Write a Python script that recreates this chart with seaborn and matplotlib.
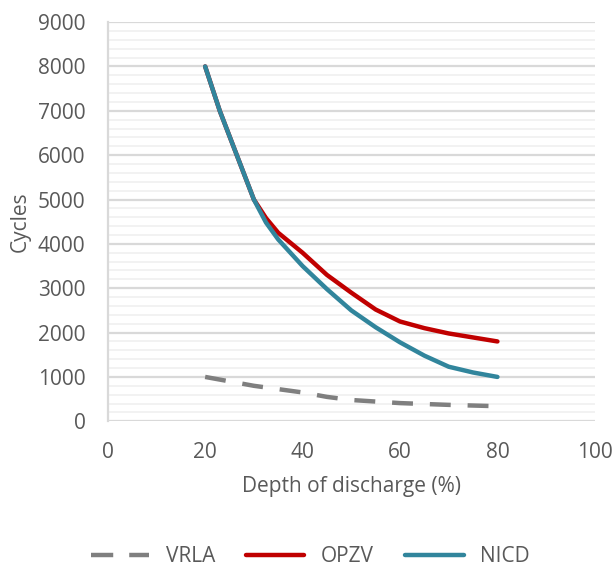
import numpy as np
import pandas as pd
import matplotlib
matplotlib.use("Agg")
import matplotlib.pyplot as plt
import seaborn as sns

# depth of discharge (%) and cycle counts
depth = [20, 23, 26.5, 30, 32.5, 35, 40, 45, 50, 55, 60, 65, 70, 75, 80]
opzv = [8000, 7000, 6000, 5000, 4580, 4250, 3800, 3300, 2900, 2520, 2250, 2100, 1980, 1890, 1800]
nicd = [8000, 7000, 6000, 5000, 4480, 4100, 3500, 2980, 2500, 2120, 1780, 1480, 1230, 1100, 1000]

depth_vrla = [20, 30, 40, 45, 50, 60, 70, 80]
vrla = [1000, 800, 650, 550, 480, 410, 370, 340]

series = ["VRLA", "OPZV", "NICD"]
colors = {"VRLA": "#7f7f7f", "OPZV": "#c00000", "NICD": "#31859c"}

long = pd.concat([
    pd.DataFrame({"depth": depth_vrla, "cycles": vrla, "type": "VRLA"}),
    pd.DataFrame({"depth": depth, "cycles": opzv, "type": "OPZV"}),
    pd.DataFrame({"depth": depth, "cycles": nicd, "type": "NICD"}),
], ignore_index=True)

sns.set_style("white")
plt.rcParams["font.family"] = ["Open Sans", "DejaVu Sans"]
plt.rcParams["lines.solid_joinstyle"] = "round"
text_col = "#595959"
fs = 15

fig = plt.figure(figsize=(6.12, 5.67), dpi=100)
ax = fig.add_axes([0.176, 0.257, 0.796, 0.704])

# minor + major gridlines
for v in np.arange(0, 9001, 200):
    major = v % 1000 == 0
    ax.axhline(v, color="#d9d9d9" if major else "#f0f0f0", lw=1.6 if major else 1.2, zorder=0)

sns.lineplot(data=long, x="depth", y="cycles", hue="type", hue_order=series,
             palette=colors, style="type", style_order=series,
             dashes={"VRLA": (4.7, 3.8), "OPZV": "", "NICD": ""},
             lw=3.2, ax=ax, legend=False, sort=False)

ax.set_xlim(0, 100)
ax.set_ylim(0, 9000)
ax.set_xticks(range(0, 101, 20))
ax.set_yticks(range(0, 9001, 1000))
ax.tick_params(colors=text_col, labelsize=fs, length=0)
ax.tick_params(axis="y", pad=16)
ax.tick_params(axis="x", pad=15)
for s in ["top", "right", "bottom"]:
    ax.spines[s].set_visible(False)
ax.spines["left"].set_color("#d9d9d9")
ax.spines["left"].set_linewidth(1.6)
ax.set_xlabel("Depth of discharge (%)", color=text_col, fontsize=fs, labelpad=9)
ax.set_ylabel("Cycles", color=text_col, fontsize=fs, labelpad=5)

handles = [plt.Line2D([], [], color=colors[s], lw=3.2,
                      dashes=(5, 3.6) if s == "VRLA" else (None, None)) for s in series]
fig.legend(handles, series, loc="center", ncol=3, frameon=False,
           bbox_to_anchor=(0.507, 0.018), fontsize=fs, handlelength=2.8,
           handletextpad=0.8, columnspacing=1.5, labelcolor=text_col)

fig.savefig("out.png", dpi=100)
